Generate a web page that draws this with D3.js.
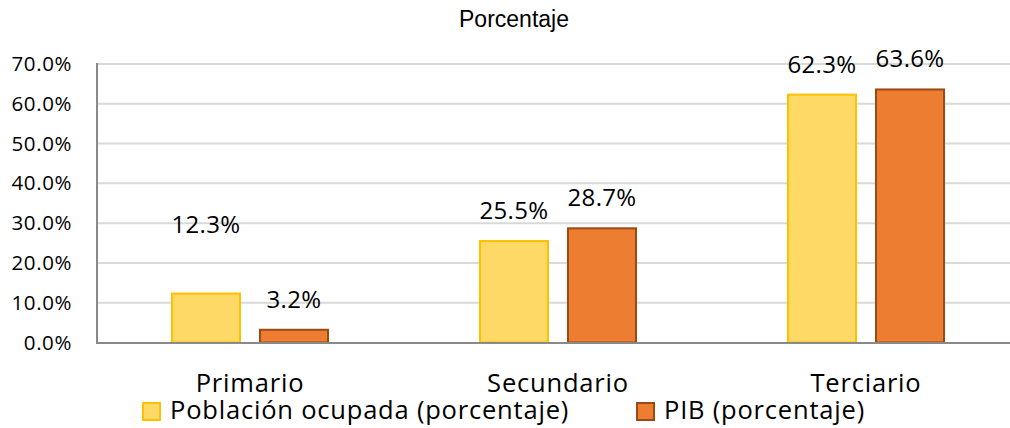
<!DOCTYPE html>
<html>
<head>
<meta charset="utf-8">
<script src="https://cdn.jsdelivr.net/npm/d3@7"></script>
<style>
  html, body { margin: 0; padding: 0; background: #fff; }
  svg { display: block; }
</style>
</head>
<body>
<div id="chart"></div>
<script>
const width = 1010
const height = 428

// data
const categories = ["Primario", "Secundario", "Terciario"]
const seriesNames = ["Población ocupada (porcentaje)", "PIB (porcentaje)"]
const poblacion = [12.3, 25.5, 62.3]
const pib = [3.2, 28.7, 63.6]
const yTicks = [0, 10, 20, 30, 40, 50, 60, 70]
const title = "Porcentaje"

const fills = ["#FFD966", "#ED7D31"]
const strokes = ["#FFC000", "#9A4A14"]

const rows = categories.map((c, i) => ({
  cat: c,
  vals: [poblacion[i], pib[i]]
}))

const svg = d3.select("#chart")
  .append("svg")
  .attr("width", width)
  .attr("height", height)

const x0 = d3.scaleBand()
  .domain(categories)
  .range([96, 1020])

const x1 = d3.scaleBand()
  .domain([0, 1])
  .range([0, x0.bandwidth()])
  .paddingInner(0.2045)
  .paddingOuter(0.852)

const y = d3.scaleLinear()
  .domain([0, 70])
  .range([342.5, 64])

/* title */
svg.append("text")
  .attr("x", 514)
  .attr("y", 27)
  .attr("text-anchor", "middle")
  .style("font-family", "'Liberation Sans', Arial, sans-serif")
  .style("font-size", "23px")
  .attr("fill", "#000")
  .text(title)

/* gridlines */
svg.append("g")
  .selectAll("line")
  .data(yTicks.filter(t => t > 0))
  .join("line")
  .attr("x1", 96)
  .attr("x2", width)
  .attr("y1", d => y(d))
  .attr("y2", d => y(d))
  .attr("stroke", "#D9D9D9")
  .attr("stroke-width", 2)

/* y tick labels */
svg.append("g")
  .selectAll("text")
  .data(yTicks)
  .join("text")
  .attr("x", 72)
  .attr("y", d => y(d) + 7)
  .attr("text-anchor", "end")
  .style("font-family", "'Open Sans', sans-serif")
  .style("font-size", "20.5px")
  .style("letter-spacing", "0.6px")
  .attr("fill", "#000")
  .text(d => d3.format(".1f")(d) + "%")

/* bars */
const groups = svg.append("g")
  .selectAll("g")
  .data(rows)
  .join("g")
  .attr("transform", d => `translate(${x0(d.cat)},0)`)

groups.selectAll("rect")
  .data(d => d.vals.map((v, k) => ({k, v})))
  .join("rect")
  .attr("x", d => x1(d.k) + 1)
  .attr("width", x1.bandwidth() - 2)
  .attr("y", d => y(d.v))
  .attr("height", d => y(0) - y(d.v))
  .attr("fill", d => fills[d.k])
  .attr("stroke", d => strokes[d.k])
  .attr("stroke-width", 2)

/* value labels, the Primario one was lifted by hand in the original */
groups.selectAll("text")
  .data(d => d.vals.map((v, k) => ({k, v, lift: (d.cat === "Primario" && k === 0) ? 39 : 0})))
  .join("text")
  .attr("x", d => x1(d.k) + x1.bandwidth() / 2)
  .attr("y", d => y(d.v) - 22 - d.lift)
  .attr("text-anchor", "middle")
  .style("font-family", "'Open Sans', sans-serif")
  .style("font-size", "24px")
  .style("letter-spacing", "0.3px")
  .attr("fill", "#000")
  .text(d => d3.format(".1f")(d.v) + "%")

/* axes lines */
svg.append("line")
  .attr("x1", 97).attr("x2", 97)
  .attr("y1", 63).attr("y2", 343)
  .attr("stroke", "#898989")
  .attr("stroke-width", 2)

svg.append("line")
  .attr("x1", 96).attr("x2", width)
  .attr("y1", 343).attr("y2", 343)
  .attr("stroke", "#898989")
  .attr("stroke-width", 2)

/* category labels */
svg.append("g")
  .selectAll("text")
  .data(categories)
  .join("text")
  .attr("x", d => x0(d) + x0.bandwidth() / 2)
  .attr("y", 392)
  .attr("text-anchor", "middle")
  .style("font-family", "'Open Sans', sans-serif")
  .style("font-size", "25.5px")
  .style("letter-spacing", "0.8px")
  .attr("fill", "#000")
  .text(d => d)

/* legend */
const legendX = [142, 636]
const legend = svg.append("g")
  .selectAll("g")
  .data(seriesNames)
  .join("g")
  .attr("transform", (d, i) => `translate(${legendX[i]},0)`)

legend.append("rect")
  .attr("x", 1).attr("y", 403)
  .attr("width", 17).attr("height", 17)
  .attr("fill", (d, i) => fills[i])
  .attr("stroke", (d, i) => strokes[i])
  .attr("stroke-width", 2)

legend.append("text")
  .attr("x", 28)
  .attr("y", 419)
  .style("font-family", "'Open Sans', sans-serif")
  .style("font-size", "25.5px")
  .style("letter-spacing", "0.8px")
  .attr("fill", "#000")
  .text(d => d)
</script>
</body>
</html>
